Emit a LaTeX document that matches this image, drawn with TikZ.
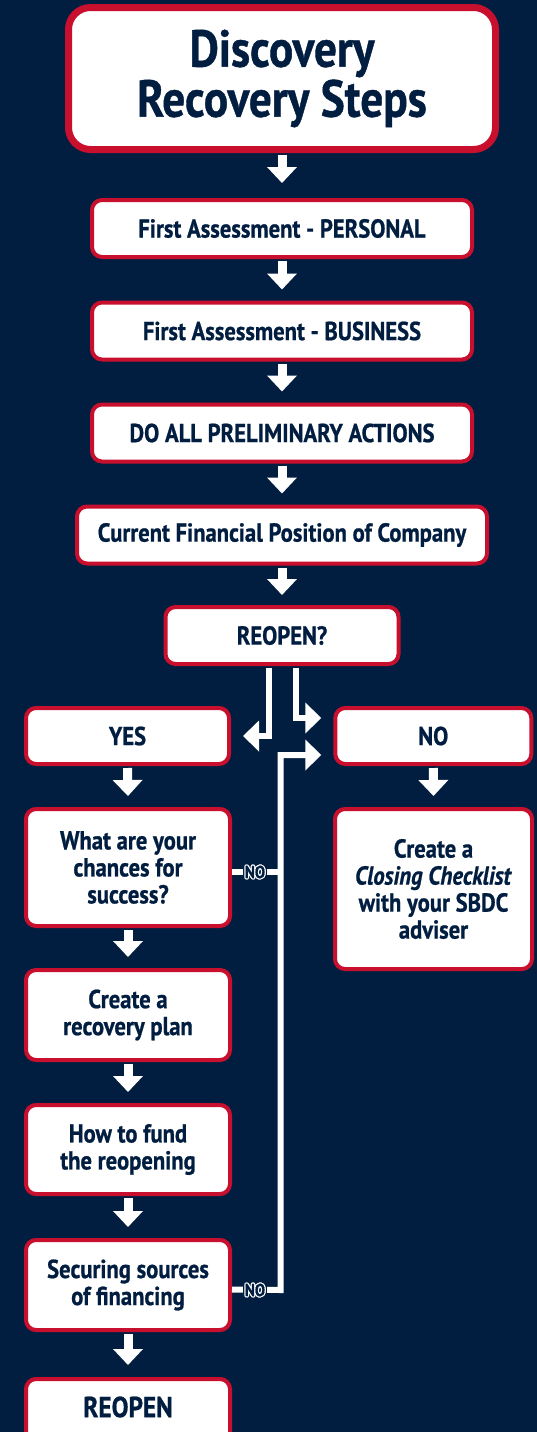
\documentclass[tikz,border=0pt]{standalone}
\usepackage{fontspec}
\setmainfont{PT Sans}[FakeStretch=0.87, BoldFeatures={FakeBold=0.8}, BoldItalicFeatures={FakeBold=0.8}]
\usetikzlibrary{arrows.meta,calc}
\definecolor{navy}{RGB}{1,30,65}
\definecolor{sbred}{RGB}{200,16,46}
\newcommand\halotext[1]{\leavevmode
  \rlap{\textcolor{white}{\kern1.2pt #1}}%
  \rlap{\textcolor{white}{\kern-1.2pt #1}}%
  \rlap{\textcolor{white}{\raisebox{1.2pt}{#1}}}%
  \rlap{\textcolor{white}{\raisebox{-1.2pt}{#1}}}%
  \rlap{\textcolor{white}{\kern0.85pt\raisebox{0.85pt}{#1}}}%
  \rlap{\textcolor{white}{\kern-0.85pt\raisebox{0.85pt}{#1}}}%
  \rlap{\textcolor{white}{\kern0.85pt\raisebox{-0.85pt}{#1}}}%
  \rlap{\textcolor{white}{\kern-0.85pt\raisebox{-0.85pt}{#1}}}%
  \textcolor{navy}{#1}}
\tikzset{
  box/.style={draw=sbred, line width=4pt, fill=white, rounded corners=10pt,
    text=navy, align=center, inner sep=0pt,
    font=\fontsize{26}{27}\selectfont\bfseries},
  titlebox/.style={box, line width=7pt, rounded corners=22pt,
    font=\fontsize{52}{50}\selectfont\bfseries},
  arr/.style={draw=white, line width=9pt, shorten <=2pt,
    -{Triangle[width=29pt,length=16pt]}},
  elbow/.style={draw=white, line width=6pt, line join=miter,
    -{Triangle[width=30pt,length=16pt]}},
  noline/.style={draw=white, line width=6pt, line join=miter},
  nolabel/.style={fill=navy, inner sep=1.5pt,
    font=\fontsize{17.5}{17.5}\selectfont\bfseries}
}
\begin{document}
\begin{tikzpicture}[x=1pt,y=-1pt]
\fill[navy] (0,0) rectangle (537,1432);
\useasboundingbox (0,0) rectangle (537,1432);
\clip (0,0) rectangle (537,1432);
% nodes
\node[titlebox, minimum width=427pt, minimum height=142pt] (title) at (282,78.5) {Discovery\\Recovery Steps};
\node[box, minimum width=380pt, minimum height=57pt] (b1) at (282,228.5) {First Assessment - PERSONAL};
\node[box, minimum width=380pt, minimum height=57pt] (b2) at (282,331) {First Assessment - BUSINESS};
\node[box, minimum width=380pt, minimum height=57pt] (b3) at (282,433) {DO ALL PRELIMINARY ACTIONS};
\node[box, minimum width=410pt, minimum height=57pt] (b4) at (282,535) {Current Financial Position of Company};
\node[box, minimum width=233pt, minimum height=57pt] (b5) at (282,635.5) {REOPEN?};
\node[box, minimum width=203pt, minimum height=56pt] (yes) at (127.5,736) {YES};
\node[box, minimum width=196pt, minimum height=56pt] (no) at (433.3,736) {NO};
\node[box, minimum width=204pt, minimum height=117pt] (q) at (128,867.5) {What are your\\chances for\\success?};
\node[box, minimum width=204pt, minimum height=90pt] (plan) at (128,1015) {Create a\\recovery plan};
\node[box, minimum width=204pt, minimum height=89pt] (fund) at (128,1149.5) {How to fund\\the reopening};
\node[box, minimum width=204pt, minimum height=90pt] (secure) at (128,1285) {Securing sources\\of financing};
\node[box, minimum width=204pt, minimum height=90pt] (reopen) at (128,1424) {};
\node[text=navy, font=\fontsize{29}{29}\selectfont\bfseries] (reopent) at (128,1407) {REOPEN};
\node[box, minimum width=197pt, minimum height=160pt] (close) at (433.5,889) {Create a\\\textit{Closing Checklist}\\with your SBDC\\adviser};
% straight arrows
\draw[arr] (title.south) -- ([yshift=15pt]b1.north);
\draw[arr] (b1.south) -- ([yshift=11pt]b2.north);
\draw[arr] (b2.south) -- ([yshift=11pt]b3.north);
\draw[arr] (b3.south) -- ([yshift=11pt]b4.north);
\draw[arr] (b4.south) -- ([yshift=10pt]b5.north);
\draw[arr] (yes.south) -- ([yshift=11pt]q.north);
\draw[arr] (no.south) -- ([yshift=11pt]close.north);
\draw[arr] (q.south) -- ([yshift=11pt]plan.north);
\draw[arr] (plan.south) -- ([yshift=11pt]fund.north);
\draw[arr] (fund.south) -- ([yshift=11pt]secure.north);
\draw[arr] (secure.south) -- ([yshift=12pt]reopen.north);
% branches
\draw[elbow, shorten <=2pt] ([xshift=-13.5pt]b5.south) |- ([xshift=12pt]yes.east);
\draw[elbow, shorten <=2pt] ([xshift=14pt]b5.south) |- ([xshift=-12pt,yshift=18pt]no.west);
\coordinate (c1) at (280.5,872);
\coordinate (c2) at (280.5,1290);
\draw[noline] ([yshift=-4.5pt]q.east) -- (c1);
\draw[elbow] ([yshift=-4.5pt]secure.east) -- (c2) |- ([xshift=-12pt,yshift=-19pt]no.west);
\node[nolabel] (nol1) at (255,872) {\halotext{NO}};
\node[nolabel] (nol2) at (255,1290) {\halotext{NO}};
\end{tikzpicture}
\end{document}
